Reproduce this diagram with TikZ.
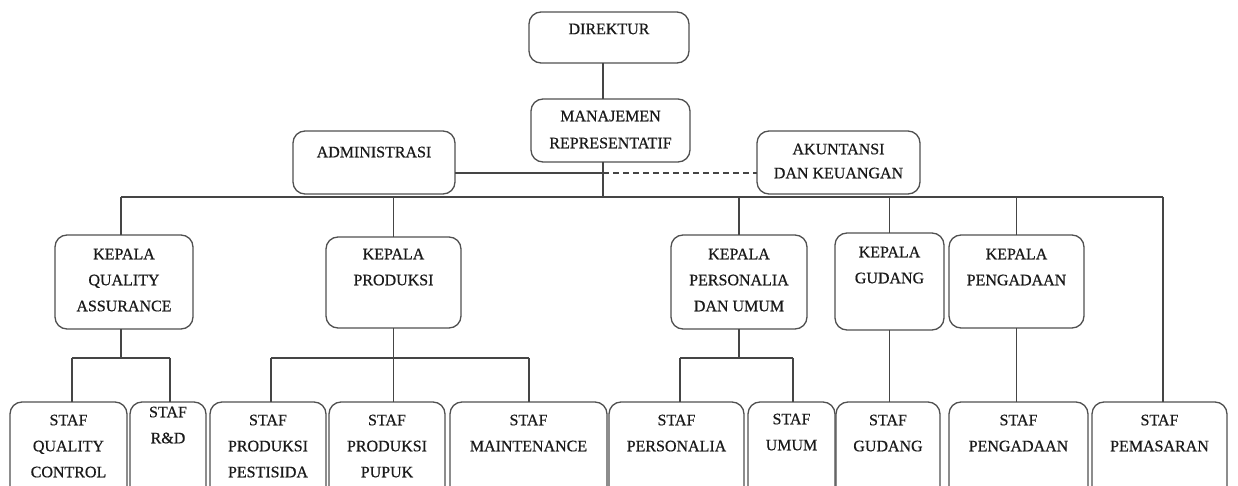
\documentclass[tikz,border=0pt]{standalone}
\usepackage{fontspec}
\setmainfont{Liberation Serif}
\usetikzlibrary{calc}

\definecolor{boxline}{HTML}{505050}
\definecolor{linkline}{HTML}{454545}
\definecolor{inktext}{HTML}{1A1A1A}

% a rounded box from (x1,y1) to (x2,y2) with its text block starting at the given line
\newcommand\orgnode[7]{%
  \node[orgbox, minimum width={(#4-(#2))*0.5pt}, minimum height={(#5-(#3))*0.5pt}]
    (#1) at ({(#2+#4)/2},{(#3+#5)/2}) {};
  \node[orglabel, anchor=north] (#1-t) at ({(#2+#4)/2},{#6-5.3}) {#7};
}

\begin{document}
\begin{tikzpicture}[x=0.5pt, y=-0.5pt,
  orgbox/.style={draw=boxline, line width=0.65pt, rounded corners=6pt,
    inner sep=0pt, outer sep=0pt},
  orglabel/.style={inner sep=0pt, outer sep=0pt, align=center, text=inktext,
    font=\fontsize{8pt}{13pt}\selectfont\addfontfeatures{FakeBold=0.6}},
  link/.style={draw=linkline, line width=0.7pt},
  sidelink/.style={link, dashed, dash pattern=on 3pt off 2pt}]

\useasboundingbox (0,0) rectangle (1238,486);
\clip (0,0) rectangle (1238,486);

% top management
\orgnode{dir}{529}{12}{689}{63}{29}{DIREKTUR}
\orgnode{mr}{531}{99}{690}{162}{116}{MANAJEMEN\\[0.5pt]REPRESENTATIF}
\orgnode{adm}{293}{131}{455}{194}{152}{ADMINISTRASI}
\orgnode{ak}{757}{131}{920}{194}{149}{AKUNTANSI\\[-1pt]DAN KEUANGAN}

% department heads
\orgnode{qa}{55}{235}{193}{329}{254}{KEPALA\\QUALITY\\ASSURANCE}
\orgnode{prod}{326}{237}{461}{328}{254}{KEPALA\\PRODUKSI}
\orgnode{pers}{671}{235}{807}{329}{254}{KEPALA\\PERSONALIA\\DAN UMUM}
\orgnode{gud}{835}{233}{944}{330}{252}{KEPALA\\GUDANG}
\orgnode{peng}{949}{235}{1084}{328}{254}{KEPALA\\PENGADAAN}

% staff
\orgnode{qc}{10}{402}{127}{520}{420}{STAF\\QUALITY\\CONTROL}
\orgnode{rd}{130}{402}{206}{520}{412}{STAF\\R\&D}
\orgnode{pest}{210}{402}{326}{520}{420}{STAF\\PRODUKSI\\PESTISIDA}
\orgnode{pupuk}{329}{402}{445}{520}{420}{STAF\\PRODUKSI\\PUPUK}
\orgnode{maint}{450}{402}{607}{520}{420}{STAF\\MAINTENANCE}
\orgnode{spers}{609}{402}{744}{520}{420}{STAF\\PERSONALIA}
\orgnode{umum}{748}{402}{835}{520}{419}{STAF\\UMUM}
\orgnode{sgud}{836}{402}{940}{520}{420}{STAF\\GUDANG}
\orgnode{speng}{949}{402}{1088}{520}{420}{STAF\\PENGADAAN}
\orgnode{pemas}{1092}{402}{1227}{520}{420}{STAF\\PEMASARAN}

% junction points
\coordinate (spine) at (603,197);
\coordinate (admj) at (603,173);
\coordinate (busL) at (121,197);
\coordinate (busR) at (1163,197);
\coordinate (qaj) at (121,358);
\coordinate (qcj) at (72,358);
\coordinate (rdj) at (170,358);
\coordinate (pestj) at (271,358);
\coordinate (maintj) at (529,358);
\coordinate (spersj) at (680,358);
\coordinate (umumj) at (793,358);

% main spine and side links
\draw[link] (spine |- dir.south) -- (spine |- mr.north);
\draw[link] (spine |- mr.south) -- (spine);
\draw[link] (admj -| adm.east) -- (admj);
\draw[sidelink] (admj) -- (admj -| ak.west);

% distribution bus
\draw[link] (busL) -- (busR);
\draw[link] (busL) -- (busL |- qa.north);
\draw[link] (prod.north |- busL) -- (prod.north);
\draw[link] (pers.north |- busL) -- (pers.north);
\draw[link] (gud.north |- busL) -- (gud.north);
\draw[link] (peng.north |- busL) -- (peng.north);
\draw[link] (busR) -- (busR |- pemas.north);

% quality assurance
\draw[link] (qaj |- qa.south) -- (qaj);
\draw[link] (qcj) -- (rdj);
\draw[link] (qcj) -- (qcj |- qc.north);
\draw[link] (rdj) -- (rdj |- rd.north);

% production
\draw[link] (pestj) -- (maintj);
\draw[link] (prod.south) -- (prod.south |- pupuk.north);
\draw[link] (pestj) -- (pestj |- pest.north);
\draw[link] (maintj) -- (maintj |- maint.north);

% personnel and general affairs
\draw[link] (pers.south) -- (pers.south |- spersj);
\draw[link] (spersj) -- (umumj);
\draw[link] (spersj) -- (spersj |- spers.north);
\draw[link] (umumj) -- (umumj |- umum.north);

% warehouse and procurement
\draw[link] (gud.south) -- (gud.south |- sgud.north);
\draw[link] (peng.south) -- (peng.south |- speng.north);

\end{tikzpicture}
\end{document}
